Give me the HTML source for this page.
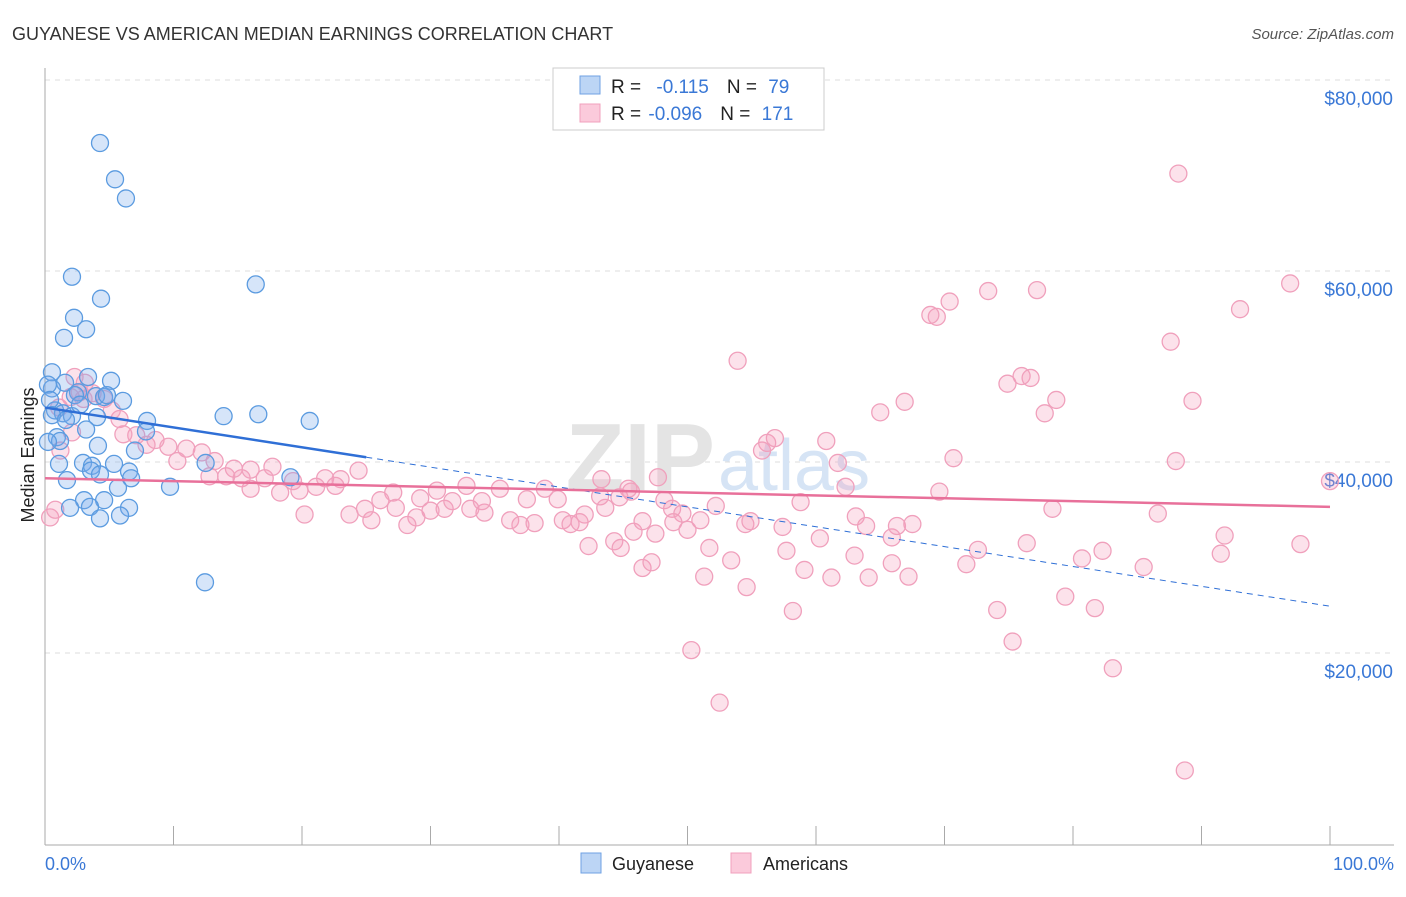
<!DOCTYPE html>
<html><head><meta charset="utf-8"><style>
body{margin:0;background:#fff;font-family:"Liberation Sans",sans-serif;}
svg text{font-family:"Liberation Sans",sans-serif;}
</style></head><body>
<svg id="chart" width="1406" height="892" xmlns="http://www.w3.org/2000/svg">
<text x="12" y="40" font-size="18" fill="#333">GUYANESE VS AMERICAN MEDIAN EARNINGS CORRELATION CHART</text>
<text x="1394" y="39" font-size="15" fill="#555" font-style="italic" text-anchor="end">Source: ZipAtlas.com</text>
<g id="grid"></g>
<text x="715" y="490" font-size="96" font-weight="bold" fill="#e4e4e4" text-anchor="end">ZIP</text>
<text x="718" y="490" font-size="72" fill="#d6e4f5">atlas</text>
<g id="points"></g>
<g id="trends"></g>
<text transform="translate(34,455) rotate(-90)" font-size="18" fill="#222" text-anchor="middle">Median Earnings</text>
<text x="45" y="870" font-size="18" fill="#3a78d6">0.0%</text>
<text x="1394" y="870" font-size="18" fill="#3a78d6" text-anchor="end">100.0%</text>
<g>
<rect x="553" y="68" width="271" height="62" fill="#fff" stroke="#ccc"/>
<rect x="580" y="76" width="20" height="18" fill="#bcd5f5" stroke="#6fa1e3"/>
<rect x="580" y="104" width="20" height="18" fill="#fbcadb" stroke="#f0a0bc"/>
<text x="611" y="93" font-size="19" fill="#222">R = <tspan fill="#3a78d6" dx="10">-0.115</tspan><tspan dx="18" fill="#222">N = </tspan><tspan fill="#3a78d6" dx="6">79</tspan></text>
<text x="611" y="120" font-size="19" fill="#222">R = <tspan fill="#3a78d6" dx="2">-0.096</tspan><tspan dx="18" fill="#222">N = </tspan><tspan fill="#3a78d6" dx="6">171</tspan></text>
</g>
<g>
<rect x="581" y="853" width="20" height="20" fill="#bcd5f5" stroke="#6fa1e3"/>
<text x="612" y="870" font-size="18" fill="#222">Guyanese</text>
<rect x="731" y="853" width="20" height="20" fill="#fbcadb" stroke="#f0a0bc"/>
<text x="763" y="870" font-size="18" fill="#222">Americans</text>
</g>
</svg>
<script>
const yTicks=[20000,40000,60000,80000];
const yTickLabels=["$20,000","$40,000","$60,000","$80,000"];
const xTicks=[0,10,20,30,40,50,60,70,80,90,100];
const guyX=[4.28,5.45,6.3,2.1,16.4,4.36,2.26,3.2,1.48,0.54,3.35,5.14,1.56,0.54,2.57,3.97,4.6,6.07,0.78,1.4,2.1,7.94,13.9,16.6,20.6,4.05,3.2,0.93,1.17,4.12,7.86,7.0,1.09,2.96,3.66,3.58,4.28,5.37,6.54,1.71,6.7,5.68,19.1,12.5,9.73,3.04,4.6,3.5,1.95,6.54,4.28,5.84,12.45,0.23,0.39,0.54,0.23,2.33,2.72,1.63,4.82];
const guyY=[73.4,69.6,67.6,59.4,58.6,57.1,55.1,53.9,53.0,49.4,48.9,48.5,48.3,47.7,47.3,46.9,46.8,46.4,45.4,45.1,44.8,44.3,44.8,45.0,44.3,44.7,43.4,42.6,42.2,41.7,43.2,41.2,39.8,39.9,39.6,39.1,38.7,39.8,39.0,38.1,38.3,37.3,38.4,39.9,37.4,36.0,36.0,35.3,35.2,35.2,34.1,34.4,27.4,48.1,46.5,44.9,42.1,47.0,46.0,44.4,47.0];
const amX=[88.2,96.9,69.4,73.4,77.2,70.4,68.9,93.0,53.9,87.6,74.9,76.0,76.7,78.7,77.8,65.0,66.9,89.3,56.2,56.8,60.8,55.8,70.7,61.7,88.0,69.6,100,78.4,86.6,91.8,91.5,97.7,62.3,58.8,52.2,54.5,54.9,57.4,63.1,63.9,65.9,66.3,67.5,60.3,63.0,65.9,71.7,72.6,76.4,80.7,82.3,85.5,57.7,53.4,51.3,51.7,50.0,47.5,45.8,46.5,47.2,54.6,59.1,61.2,64.1,67.2,74.1,75.3,79.4,81.7,83.1,88.7,50.3,52.5,58.2,47.7,43.3,45.6,43.2,45.4,48.2,48.8,49.6,43.6,44.7,42.0,39.9,38.9,37.5,35.4,34.2,32.8,31.1,30.5,31.7,29.2,28.9,27.1,26.1,27.3,24.9,23.7,24.4,23.0,21.8,21.1,19.8,19.3,17.7,17.1,16.0,15.3,14.7,14.1,12.8,13.2,12.2,11.0,10.3,9.6,8.6,7.9,7.1,6.1,5.8,5.2,4.6,3.7,3.0,2.7,2.0,1.1,2.1,0.4,0.8,1.2,16.0,18.3,20.2,22.6,25.4,28.2,30.0,33.1,34.0,36.2,37.0,38.1,40.3,40.9,41.6,42.3,44.3,44.8,46.5,48.9,51.0,2.3,3.1];
const amY=[70.2,58.7,55.2,57.9,58.0,56.8,55.4,56.0,50.6,52.6,48.2,49.0,48.8,46.5,45.1,45.2,46.3,46.4,42.0,42.5,42.2,41.2,40.4,39.9,40.1,36.9,38.0,35.1,34.6,32.3,30.4,31.4,37.4,35.8,35.4,33.5,33.8,33.2,34.3,33.3,32.1,33.3,33.5,32.0,30.2,29.4,29.3,30.8,31.5,29.9,30.7,29.0,30.7,29.7,28.0,31.0,32.9,32.5,32.7,28.9,29.5,26.9,28.7,27.9,27.9,28.0,24.5,21.2,25.9,24.7,18.4,7.7,20.3,14.8,24.4,38.4,38.2,36.9,36.4,37.2,36.0,35.1,34.6,35.2,36.3,34.5,36.1,37.2,36.1,37.2,34.7,37.5,35.1,37.0,35.9,36.2,34.2,36.8,36.0,35.2,35.1,34.5,39.1,38.2,38.3,37.4,37.0,38.0,39.5,38.3,37.2,38.3,39.3,38.5,38.5,40.1,41.0,41.4,40.1,41.6,42.3,41.8,42.8,42.9,44.5,45.4,46.6,47.2,46.6,47.3,46.8,45.7,43.1,34.2,35.0,41.2,39.2,36.8,34.5,37.5,33.9,33.4,34.9,35.1,35.9,33.9,33.4,33.6,33.9,33.5,33.7,31.2,31.7,31.0,33.8,33.7,33.9,48.9,48.3];
const guyTrend=[45.7,24.9];
const amTrend=[38.3,35.3];
const guySolidEnd=25;
const NS='http://www.w3.org/2000/svg';
const X=p=>45+p*12.85;
const Y=k=>844-k*9.55;
function mk(tag,attrs,parent){const e=document.createElementNS(NS,tag);for(const k in attrs)e.setAttribute(k,attrs[k]);parent.appendChild(e);return e;}
const grid=document.getElementById('grid');
yTicks.forEach((v,i)=>{
 const l=mk('line',{x1:45,x2:1394,y1:Y(v/1000),y2:Y(v/1000),stroke:'#ddd','stroke-dasharray':'5,5'},grid);
 
 
 const t=mk('text',{x:1393,y:Y(v/1000)+25,'font-size':19,fill:'#3a78d6','text-anchor':'end'},grid);
 t.textContent=yTickLabels[i];
 
 
});
const ax=mk('line',{x1:45,x2:1394,y1:845,y2:845,stroke:'#aaa'},grid);


const ay=mk('line',{x1:45,x2:45,y1:68,y2:845,stroke:'#aaa'},grid);


xTicks.forEach(p=>{
 const t=mk('line',{x1:X(p),x2:X(p),y1:826,y2:845,stroke:'#aaa'},grid);
 
 
});
const pts=document.getElementById('points');
amX.forEach((x,i)=>{
 const c=mk('circle',{cx:X(x),cy:Y(amY[i]),r:8.5,fill:'rgba(244,160,190,0.3)',stroke:'#f0a0bc','stroke-width':1.3},pts);
 
 
});
guyX.forEach((x,i)=>{
 const c=mk('circle',{cx:X(x),cy:Y(guyY[i]),r:8.5,fill:'rgba(120,170,235,0.3)',stroke:'#5b9be0','stroke-width':1.3},pts);
 
 
});
const tr=document.getElementById('trends');
const gAt=p=>guyTrend[0]+(guyTrend[1]-guyTrend[0])*p/100;
const l1=mk('line',{x1:X(0),y1:Y(gAt(0)),x2:X(guySolidEnd),y2:Y(gAt(guySolidEnd)),stroke:'#2f6fd6','stroke-width':2.5},tr);


const l2=mk('line',{x1:X(guySolidEnd),y1:Y(gAt(guySolidEnd)),x2:X(100),y2:Y(gAt(100)),stroke:'#2f6fd6','stroke-width':1,'stroke-dasharray':'6,5'},tr);


const l3=mk('line',{x1:X(0),y1:Y(amTrend[0]),x2:X(100),y2:Y(amTrend[1]),stroke:'#e8709a','stroke-width':2.5},tr);


</script>
</body></html>
